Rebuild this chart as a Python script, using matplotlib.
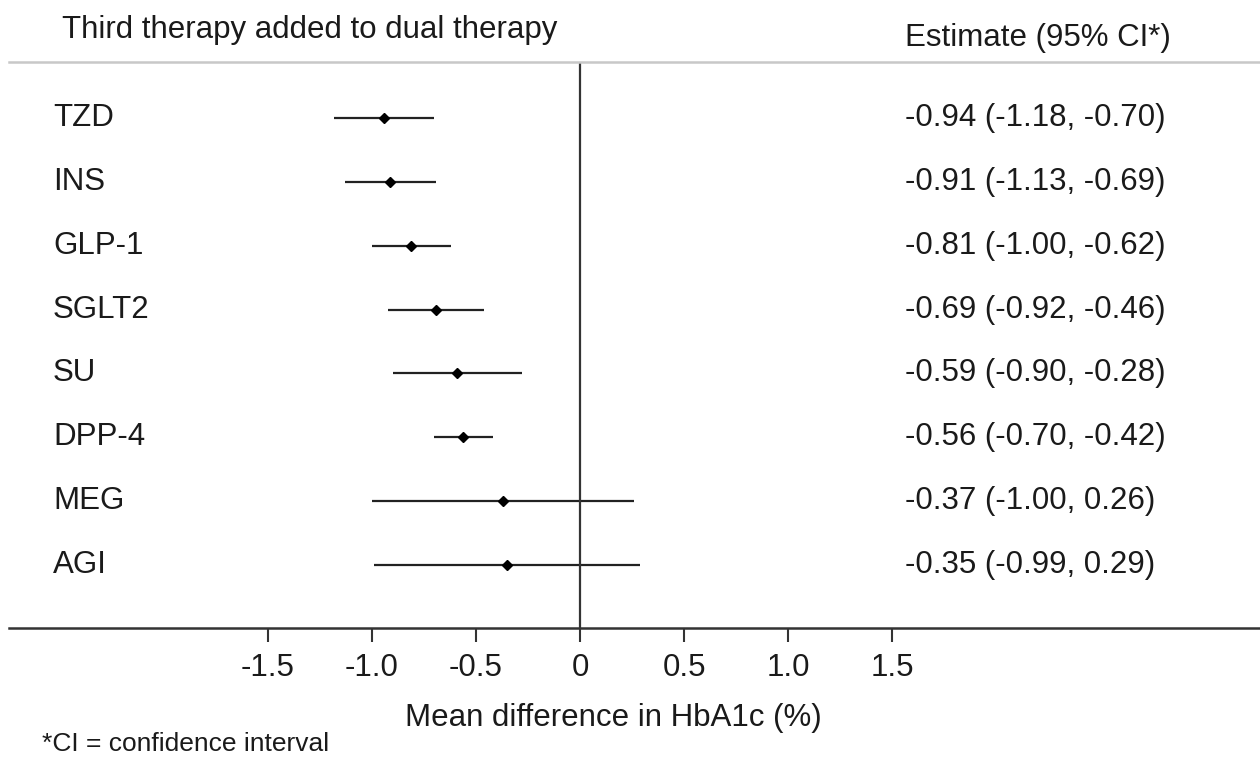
import matplotlib
matplotlib.use("Agg")
import matplotlib.pyplot as plt

plt.rcParams['font.family'] = ['Liberation Sans', 'DejaVu Sans']

therapies = ["TZD", "INS", "GLP-1", "SGLT2", "SU", "DPP-4", "MEG", "AGI"]
estimates = [-0.94, -0.91, -0.81, -0.69, -0.59, -0.56, -0.37, -0.35]
ci_low = [-1.18, -1.13, -1.00, -0.92, -0.90, -0.70, -1.00, -0.99]
ci_high = [-0.70, -0.69, -0.62, -0.46, -0.28, -0.42, 0.26, 0.29]
tick_values = [-1.5, -1.0, -0.5, 0, 0.5, 1.0, 1.5]
tick_labels = ["-1.5", "-1.0", "-0.5", "0", "0.5", "1.0", "1.5"]

W, H = 1260, 759
fig = plt.figure(figsize=(W / 100, H / 100), dpi=100)
ax_left = 9
ax = fig.add_axes([ax_left / W, (H - 628) / H, 1 - ax_left / W, (628 - 62) / H])
ax_w = W - ax_left

txt = "#1a1a1a"
fs = 22.5
rows = list(range(len(therapies)))
for i in rows:
    ax.plot([ci_low[i], ci_high[i]], [i, i], color="#222222", lw=1.6, solid_capstyle="butt")
ax.plot(estimates, rows, linestyle="none", marker="D", markersize=5.5, color="black")

ax.axvline(0, color="#333333", lw=1.6)

ax.set_xlim((ax_left - 580) / 208.3, (1260 - 580) / 208.3)
ax.set_ylim(7.99, -0.88)

for s in ["left", "right"]:
    ax.spines[s].set_visible(False)
ax.spines["bottom"].set_linewidth(1.8)
ax.spines["bottom"].set_color("#333333")
ax.spines["top"].set_color("#c8c8c8")
ax.spines["top"].set_linewidth(1.8)

ax.set_yticks([])
ax.set_xticks(tick_values)
ax.set_xticklabels(tick_labels, fontsize=fs, color=txt)
ax.tick_params(axis="x", direction="out", length=10, width=1.5, color="#333333", pad=8)

ytr = ax.get_yaxis_transform()
for i, name in enumerate(therapies):
    ax.text((53 - ax_left) / ax_w, i, name, transform=ytr, fontsize=fs,
            va="center", ha="left", color=txt)
    est = f"{estimates[i]:.2f} ({ci_low[i]:.2f}, {ci_high[i]:.2f})"
    ax.text((905 - ax_left) / ax_w, i, est, transform=ytr,
            fontsize=fs, va="center", ha="left", color=txt)

fig.text(62 / W, 1 - 30 / H, "Third therapy added to dual therapy", fontsize=fs,
         va="center", ha="left", color=txt)
fig.text(905 / W, 1 - 38 / H, "Estimate (95% CI*)", fontsize=fs,
         va="center", ha="left", color=txt)
fig.text(613 / W, 1 - 718 / H, "Mean difference in HbA1c (%)", fontsize=fs,
         va="center", ha="center", color=txt)
fig.text(42 / W, 1 - 744 / H, "*CI = confidence interval", fontsize=19,
         va="center", ha="left", color=txt)

fig.savefig("out.png", dpi=100)
